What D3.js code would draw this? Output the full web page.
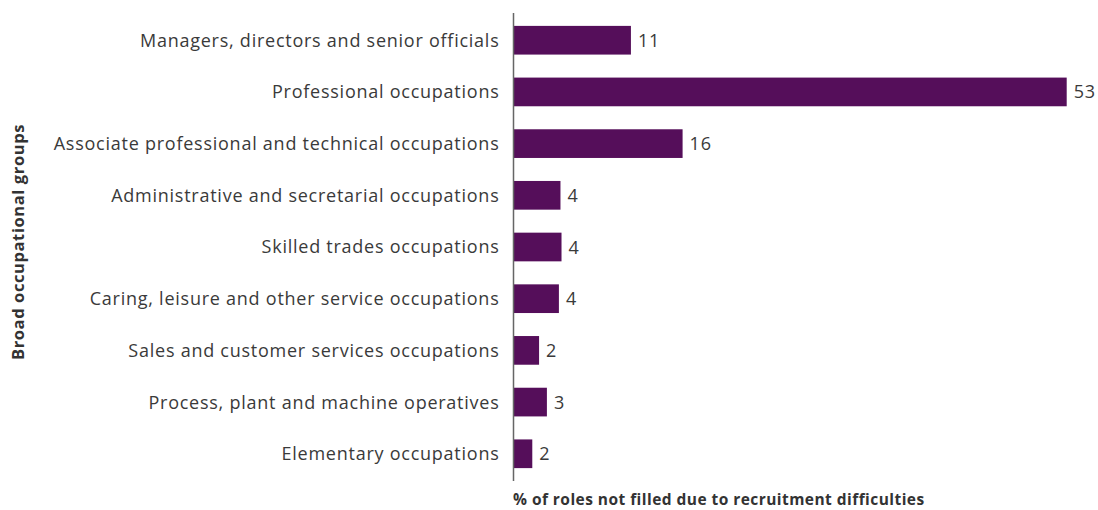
<!DOCTYPE html>
<html><head><meta charset="utf-8">
<script src="https://cdn.jsdelivr.net/npm/d3@7"></script>
<style>body{margin:0;background:#fff}</style>
</head><body>
<svg id="chart" width="1098" height="510"></svg>
<script>
const categories = [
  "Managers, directors and senior officials",
  "Professional occupations",
  "Associate professional and technical occupations",
  "Administrative and secretarial occupations",
  "Skilled trades occupations",
  "Caring, leisure and other service occupations",
  "Sales and customer services occupations",
  "Process, plant and machine operatives",
  "Elementary occupations"
];
const values = [11.25, 53, 16.2, 4.5, 4.6, 4.35, 2.45, 3.2, 1.8];
const valueLabels = ["11", "53", "16", "4", "4", "4", "2", "3", "2"];
const xTitle = "% of roles not filled due to recruitment difficulties";
const yTitle = "Broad occupational groups";

const svg = d3.select("#chart");
const x0 = 513.5, xMaxPx = 1066.7;
const x = d3.scaleLinear().domain([0, 53]).range([x0, xMaxPx]);
const y = d3.scaleBand().domain(categories).range([14, 480]).paddingInner(0.445).paddingOuter(0.23);
const font = "'Open Sans', sans-serif";
const data = categories.map((c, i) => ({c, v: values[i], l: valueLabels[i]}));

svg.selectAll("rect.bar").data(data).join("rect")
  .attr("class", "bar")
  .attr("x", x(0)).attr("y", d => y(d.c))
  .attr("width", d => x(d.v) - x(0)).attr("height", y.bandwidth())
  .attr("fill", "#550e5a");

const yAxis = svg.append("g").attr("transform", `translate(${x0},0)`)
  .call(d3.axisLeft(y).tickSize(0).tickPadding(14));
yAxis.select(".domain").remove();
yAxis.selectAll("text").attr("font-family", font).attr("font-size", 18)
  .attr("letter-spacing", "0.75px").attr("fill", "#3a3a3a").attr("dy", "0.36em");

svg.append("line").attr("x1", x0).attr("x2", x0).attr("y1", 13).attr("y2", 481)
  .attr("stroke", "#666").attr("stroke-width", 1.5);

svg.selectAll("text.val").data(data).join("text")
  .attr("class", "val")
  .attr("x", d => x(d.v) + 7).attr("y", d => y(d.c) + y.bandwidth() / 2 + 6.5)
  .attr("font-family", font).attr("font-size", 18).attr("letter-spacing", "0.8px").attr("fill", "#3a3a3a")
  .text(d => d.l);

svg.append("text").attr("x", 513).attr("y", 505)
  .attr("font-family", font).attr("font-size", 15.5).attr("font-weight", "bold")
  .attr("letter-spacing", "0.45px").attr("fill", "#333")
  .text(xTitle);

svg.append("text").attr("transform", "translate(24,242) rotate(-90)")
  .attr("text-anchor", "middle")
  .attr("font-family", font).attr("font-size", 16.5).attr("font-weight", "bold")
  .attr("letter-spacing", "0.6px").attr("fill", "#333")
  .text(yTitle);
</script>
</body></html>
